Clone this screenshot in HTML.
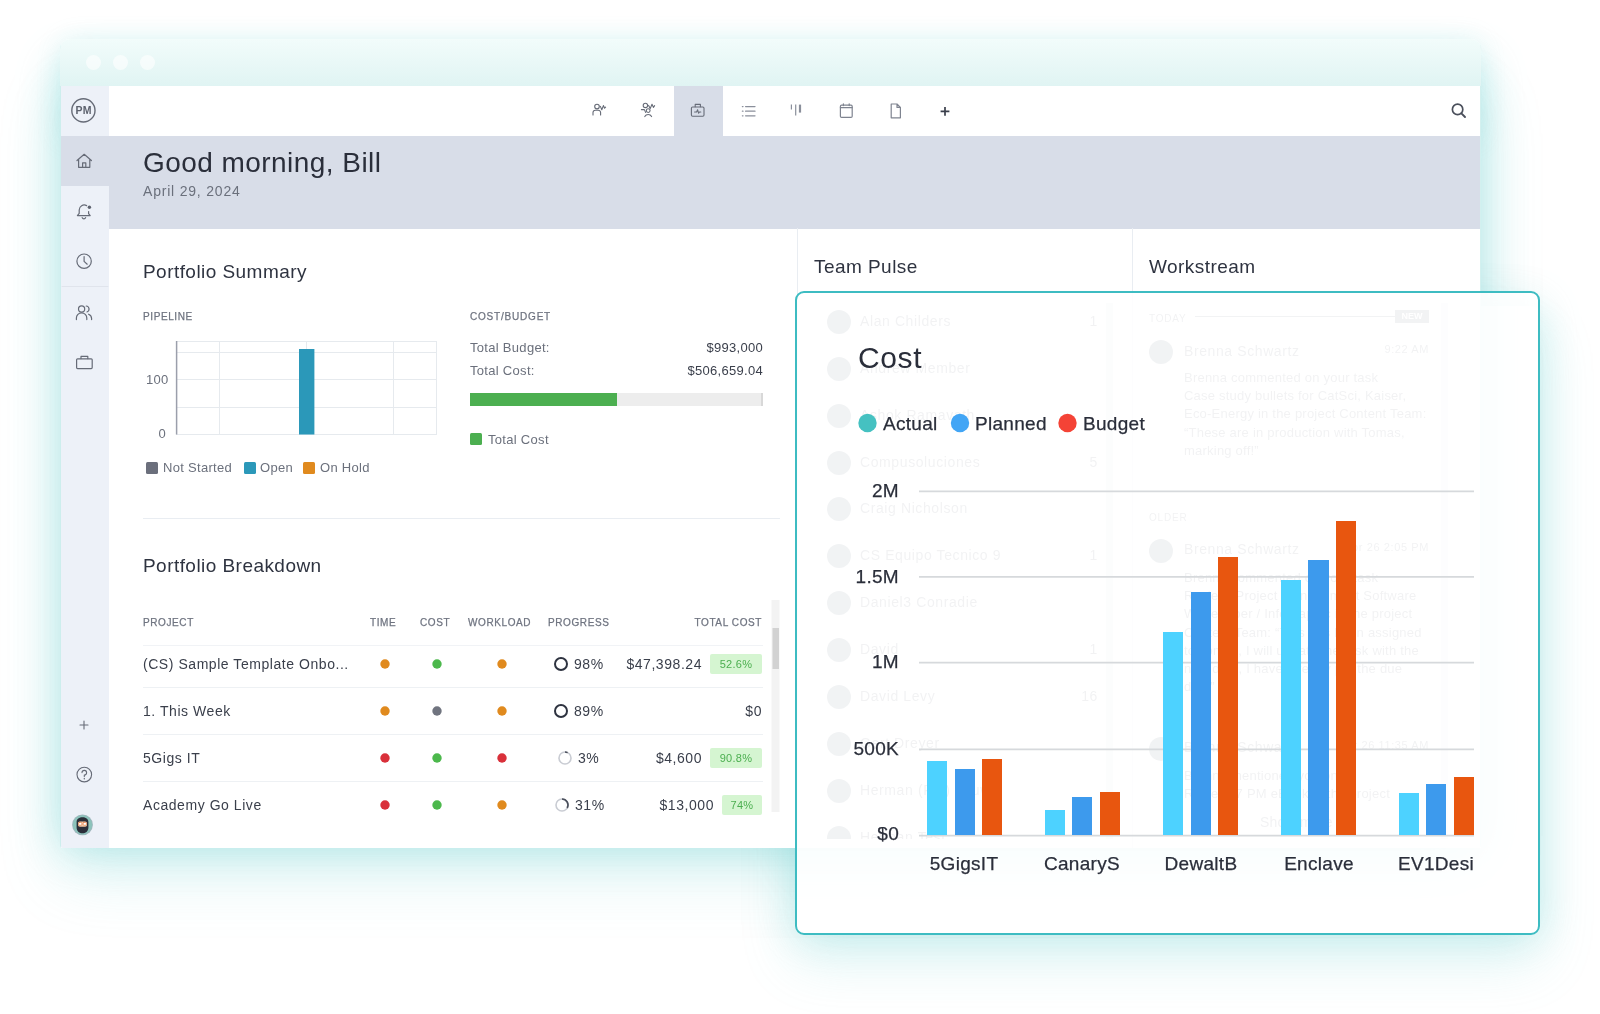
<!DOCTYPE html>
<html><head><meta charset="utf-8">
<style>
*{box-sizing:border-box;margin:0;padding:0}
html,body{width:1600px;height:1014px;overflow:hidden;background:#fff}
body{font-family:"Liberation Sans",sans-serif;color:#2e3340;position:relative}
.abs{position:absolute}
#root{position:absolute;left:0;top:0;width:1600px;height:1014px;will-change:transform}
#glow{left:61px;top:64px;width:1420px;height:784px;border-radius:10px 10px 0 0;
 box-shadow:0 0 44px 0 rgba(100,205,205,.46), 0 28px 64px 0 rgba(100,205,205,.2);}
#glow2{left:61px;top:40px;width:1420px;height:100px;border-radius:10px 10px 0 0;box-shadow:0 0 26px 0 rgba(100,205,205,.16)}
#win{left:60px;top:39px;width:1421px;height:809px;border-radius:10px 10px 3px 3px;overflow:hidden;background:linear-gradient(90deg,#cdeeed 1px,#fff 1px,#fff 1420px,#d3f0ef 1420px)}
#titlebar{left:0;top:0;width:1421px;height:47px;background:linear-gradient(#f2fcfb,#e0f4f3)}
.tl{width:15px;height:15px;border-radius:50%;background:rgba(255,255,255,.6);top:16px}
#side{left:1px;top:47px;width:48px;height:762px;background:#edf1f8}
#side .act{left:0;top:50px;width:48px;height:50px;background:#d8dde8}
#topbar{left:49px;top:47px;width:1371px;height:50px;background:#fff}
#topbar .act{left:564.6px;top:0;width:49.8px;height:50px;background:#d8dde8}
#band{left:49px;top:97px;width:1371px;height:93px;background:#d8dde8}
h1{font-weight:400;font-size:28px;left:83px;top:108px;color:#2a2e3a;white-space:nowrap;letter-spacing:.45px}
.date{font-size:14px;left:83px;top:144px;color:#6b707c;letter-spacing:.8px;white-space:nowrap}
.h2{font-size:19px;color:#2e3340;white-space:nowrap;letter-spacing:.45px}
.cap{font-size:10px;color:#6f7480;letter-spacing:.6px;white-space:nowrap;-webkit-text-stroke:.25px #6f7480}
.t12{font-size:13px;color:#6b707c;white-space:nowrap;letter-spacing:.3px}
.vline{width:1px;background:#e9edf2}

.row{font-size:14px;color:#3a3f4b;white-space:nowrap;left:83px;letter-spacing:.55px}
.badge{height:20px;line-height:20px;background:#d5f5d1;color:#4caf50;font-size:11px;text-align:center;border-radius:2px;letter-spacing:.3px}
#card{left:795px;top:291px;width:745px;height:644px;border:2px solid #3dbcc2;border-radius:9px;background:rgba(255,255,255,.89)}
#cardglow{left:795px;top:306px;width:745px;height:629px;border-radius:9px;mix-blend-mode:darken;box-shadow:0 0 40px rgba(100,205,205,.32), 0 26px 56px rgba(100,205,205,.2)}
#ghost{left:0;top:0;width:1600px;height:838px;overflow:hidden;color:#868b96}
.gn{position:absolute;left:860px;width:238px;font-size:14px;letter-spacing:.6px;white-space:nowrap}
.gn b{position:absolute;right:0;font-weight:400}
.gc{position:absolute;left:827px;width:24px;height:24px;border-radius:50%;background:#84919b}
.gs{position:absolute;font-size:13px;line-height:18.2px;letter-spacing:.22px;white-space:nowrap}
svg{position:absolute;overflow:visible}
</style></head><body><div id="root">
<div id="glow" class="abs"></div><div id="glow2" class="abs"></div><div id="cardglow" class="abs"></div>
<div id="win" class="abs">
 <div id="titlebar" class="abs">
  <div class="tl abs" style="left:26px"></div><div class="tl abs" style="left:53px"></div><div class="tl abs" style="left:80px"></div>
 </div>
 <div id="side" class="abs"><div class="act abs"></div></div>
 <div id="topbar" class="abs"><div class="act abs"></div></div>
 <div id="band" class="abs"></div>
 <h1 class="abs">Good morning, Bill</h1>
 <div class="date abs">April 29, 2024</div>
 <div class="vline abs" style="left:737px;top:189px;height:620px"></div>
 <div class="vline abs" style="left:1071.5px;top:189px;height:620px"></div>
 <div class="h2 abs" style="left:83px;top:222px">Portfolio Summary</div>
 <div class="cap abs" style="left:83px;top:272px">PIPELINE</div>
 <svg style="left:0;top:0" width="800" height="808">
  <g stroke="#e6eaee" stroke-width="1" fill="none">
   <path d="M116 302.5H377M116 313.5H377M116 340.5H377M116 368.5H377M116 395.5H377"/>
   <path d="M159.5 302V395.5M246.5 302V395.5M333.5 302V395.5M376.5 302V395.5"/>
  </g>
  <path d="M116.6 302V395.5" stroke="#9b9fab" stroke-width="1.5"/>
  <rect x="239" y="310" width="15.4" height="85.5" fill="#2b98b9"/>
  <rect x="86" y="423" width="12" height="12" rx="1.5" fill="#6b6f7c"/>
  <rect x="184" y="423" width="12" height="12" rx="1.5" fill="#2b98b9"/>
  <rect x="243" y="423" width="12" height="12" rx="1.5" fill="#e08a1e"/>
  <rect x="410" y="354" width="293" height="13" fill="#ededed"/>
  <rect x="701" y="354" width="2" height="13" fill="#d8d8d8"/>
  <rect x="410" y="354" width="147" height="13" fill="#4caf50"/>
  <rect x="410" y="394" width="12" height="12" rx="1.5" fill="#4caf50"/>
 </svg>
 <div class="t12 abs" style="left:86px;top:333px;width:20px;text-align:right">100</div>
 <div class="t12 abs" style="left:86px;top:387px;width:20px;text-align:right">0</div>
 <div class="t12 abs" style="left:103px;top:421px">Not Started</div>
 <div class="t12 abs" style="left:200px;top:421px">Open</div>
 <div class="t12 abs" style="left:260px;top:421px">On Hold</div>
 <div class="cap abs" style="left:410px;top:272px;letter-spacing:.8px">COST/BUDGET</div>
 <div class="t12 abs" style="left:410px;top:301px">Total Budget:</div>
 <div class="t12 abs" style="left:410px;top:324px">Total Cost:</div>
 <div class="t12 abs" style="right:718px;top:301px;color:#3a3f4b">$993,000</div>
 <div class="t12 abs" style="right:718px;top:324px;color:#3a3f4b">$506,659.04</div>
 <div class="t12 abs" style="left:428px;top:393px">Total Cost</div>
 <div class="abs" style="left:83px;top:479px;width:637px;height:1px;background:#e9edf2"></div>
 <div class="h2 abs" style="left:83px;top:516px">Portfolio Breakdown</div>
 <div class="cap abs" style="left:83px;top:578px">PROJECT</div>
 <div class="cap abs" style="left:310px;top:578px">TIME</div>
 <div class="cap abs" style="left:360px;top:578px">COST</div>
 <div class="cap abs" style="left:408px;top:578px">WORKLOAD</div>
 <div class="cap abs" style="left:488px;top:578px">PROGRESS</div>
 <div class="cap abs" style="right:719px;top:578px">TOTAL COST</div>
 <div class="abs" style="left:83px;top:606px;width:620px;height:1px;background:#f1f3f6"></div>
 <div class="abs" style="left:83px;top:648px;width:620px;height:1px;background:#eef1f4"></div>
 <div class="abs" style="left:83px;top:695px;width:620px;height:1px;background:#eef1f4"></div>
 <div class="abs" style="left:83px;top:742px;width:620px;height:1px;background:#eef1f4"></div>
 <div class="row abs" style="top:617px">(CS) Sample Template Onbo...</div>
 <div class="row abs" style="top:664px">1. This Week</div>
 <div class="row abs" style="top:711px">5Gigs IT</div>
 <div class="row abs" style="top:758px">Academy Go Live</div>
 <svg style="left:0;top:0" width="800" height="808">
  <g fill="#e08a1e"><circle cx="325" cy="625" r="4.7"/><circle cx="325" cy="672" r="4.7"/><circle cx="442" cy="625" r="4.7"/><circle cx="442" cy="672" r="4.7"/><circle cx="442" cy="766" r="4.7"/></g>
  <g fill="#d9303a"><circle cx="325" cy="719" r="4.7"/><circle cx="325" cy="766" r="4.7"/><circle cx="442" cy="719" r="4.7"/></g>
  <g fill="#4cb84c"><circle cx="377" cy="625" r="4.7"/><circle cx="377" cy="719" r="4.7"/><circle cx="377" cy="766" r="4.7"/></g>
  <circle cx="377" cy="672" r="4.7" fill="#70747f"/>
  <g fill="none" stroke-width="2">
   <circle cx="501" cy="625" r="6" stroke="#2e3340"/>
   <circle cx="501" cy="672" r="6" stroke="#2e3340"/>
   <circle cx="505" cy="719" r="6" stroke="#c9ccd3" stroke-width="1.6"/><path d="M505 713A6 6 0 0 1 507.6 713.6" stroke="#4a4f5b" stroke-width="1.6"/>
   <circle cx="502" cy="766" r="6" stroke="#c9ccd3" stroke-width="1.6"/>
   <path d="M502 760A6 6 0 0 1 507.2 769" stroke="#4a4f5b" stroke-width="1.6"/>
  </g>
  <rect x="711.5" y="561" width="8" height="212" fill="#f3f3f3"/>
  <rect x="712.5" y="589" width="6.5" height="41" fill="#d2d2d2"/>
 </svg>
 <div class="row abs" style="left:514px;top:617px">98%</div>
 <div class="row abs" style="left:514px;top:664px">89%</div>
 <div class="row abs" style="left:518px;top:711px">3%</div>
 <div class="row abs" style="left:515px;top:758px">31%</div>
 <div class="row abs" style="left:auto;right:779px;top:617px">$47,398.24</div>
 <div class="row abs" style="left:auto;right:719px;top:664px">$0</div>
 <div class="row abs" style="left:auto;right:779px;top:711px">$4,600</div>
 <div class="row abs" style="left:auto;right:767px;top:758px">$13,000</div>
 <div class="badge abs" style="left:650px;top:615px;width:52px">52.6%</div>
 <div class="badge abs" style="left:650px;top:709px;width:52px">90.8%</div>
 <div class="badge abs" style="left:662px;top:756px;width:40px">74%</div>
</div>
<svg style="left:0;top:0" width="1600" height="1014" fill="none" stroke="#666b77" stroke-width="1.2" stroke-linecap="round" stroke-linejoin="round">
 <!-- PM logo -->
 <circle cx="83.4" cy="110.4" r="11.6" stroke-width="1.4"/>
 <text x="83.5" y="114.2" font-family="Liberation Sans, sans-serif" font-weight="700" font-size="10.5" text-anchor="middle" fill="#5d626e" stroke="none" letter-spacing=".2">PM</text>
 <!-- home -->
 <path d="M77 160.5L84.2 154.3L91.4 160.5M78.6 159.3V167.3H89.8V159.3M82.6 167.3V162.8H85.8V167.3"/>
 <!-- bell -->
 <path d="M86.6 205.6A5 5 0 0 0 79.2 210V213.4L77.4 215.6H90.2L88.6 213.6V211.6M82.2 217.6A1.8 1.8 0 0 0 85.6 217.6"/>
 <circle cx="89.4" cy="207.2" r="1.7" fill="#5d626e" stroke="none"/>
 <!-- clock -->
 <circle cx="84.1" cy="261.2" r="7.2"/><path d="M84.1 256.6V261.4L87.2 264.2"/>
 <path d="M62 286.5H108" stroke="#e0e4ec" stroke-width="1"/>
 <!-- people -->
 <circle cx="81.6" cy="309" r="3.1"/><path d="M76.4 319.6V318A5.2 5.2 0 0 1 86.8 318V319.6"/>
 <path d="M86.2 306A3.1 3.1 0 0 1 87 312M88.6 314.2A4.6 4.6 0 0 1 91.6 318.4V319.6"/>
 <!-- briefcase -->
 <rect x="76.6" y="358.8" width="15.6" height="9.8" rx="1"/><path d="M81 358.6V356.4H87.8V358.6"/>
 <!-- plus -->
 <path d="M80 725H88M84 721V729" stroke-width="1.1"/>
 <!-- help -->
 <circle cx="84.3" cy="774.6" r="7.3" stroke-width="1.1"/><path d="M82 772.6A2.3 2.3 0 1 1 84.3 775V776.6" stroke-width="1.1"/><circle cx="84.3" cy="778.8" r=".7" fill="#5d626e" stroke="none"/>
 <!-- avatar -->
 <g stroke="none">
  <circle cx="82.5" cy="824.8" r="10.4" fill="#9fb7bd"/>
  <circle cx="82.5" cy="824.8" r="9.6" fill="#8cc3bb"/>
  <path d="M76.6 822.4C76.2 815.6 88.8 815.6 88.4 822.4V827.4C88.4 835.2 76.6 835.2 76.6 827.4Z" fill="#2b2e39"/>
  <rect x="78" y="821.4" width="9" height="5.4" rx="1.8" fill="#f3c7a6"/>
  <rect x="78.6" y="822.4" width="3.2" height="2.8" rx=".7" fill="#fff" stroke="#e0763a" stroke-width=".6"/>
  <rect x="83.2" y="822.4" width="3.2" height="2.8" rx=".7" fill="#fff" stroke="#e0763a" stroke-width=".6"/>
 </g>
 <!-- topbar: person pulse -->
 <g stroke-width="1.1">
 <circle cx="597" cy="106.6" r="2.3"/><path d="M593 115V112.6A2.4 2.4 0 0 1 595.4 110.2H598.2A2.4 2.4 0 0 1 600.6 112.6V115"/>
 <path d="M600.4 106.4L601.8 109.8L603.4 105.6L604.6 108.2L605.6 107.2"/>
 <!-- people pulse -->
 <circle cx="645.4" cy="105.4" r="2.2"/><path d="M641.4 109.6H644.4L645.6 112.4M644.8 116.6A3.8 3.8 0 0 1 651.6 116.6"/>
 <circle cx="648.2" cy="110.6" r="1.9"/>
 <path d="M648.6 105.4L650.2 108.6L652 104.2L653.4 107.4L654.6 105.6"/>
 <!-- briefcase pulse -->
 <rect x="691.4" y="107" width="12.6" height="9.2" rx="1.2"/><path d="M695.2 106.8V104.4H700.4V106.8"/>
 <path d="M694.6 112H696.6L697.6 109.8L698.6 113.2L699.4 112H700.8"/>
 </g>
 <!-- list -->
 <g stroke="#8a8f9b" stroke-width="1.3"><path d="M745.6 106.6H755M745.6 111.2H755M745.6 115.8H755"/><path d="M742.4 106.6H743M742.4 111.2H743M742.4 115.8H743"/></g>
 <!-- board -->
 <g stroke="#8a8f9b" stroke-linecap="butt"><path d="M791.4 104.6V109.6" stroke-width="1.2"/><path d="M795.7 104.6V115.6" stroke-width="1.2"/><path d="M800 104.6V112.6" stroke-width="2.2"/></g>
 <!-- calendar -->
 <g stroke="#7f8490" stroke-width="1.2"><rect x="840.4" y="105.2" width="11.8" height="12.2" rx="1.2"/><path d="M840.4 107.6H852.2M843.4 103.8V105.6M849.2 103.8V105.6"/></g>
 <!-- file -->
 <g stroke="#7f8490" stroke-width="1.2"><path d="M891.2 104H897L900.4 107.4V117.8H891.2ZM897 104V107.4H900.4"/></g>
 <!-- plus -->
 <path d="M940.6 111.4H949.4M945 107V115.8" stroke="#3a3f4b" stroke-width="1.7" stroke-linecap="butt"/>
 <!-- search -->
 <circle cx="1457.6" cy="109.4" r="5.2" stroke="#4a4f5b" stroke-width="1.7"/><path d="M1461.4 113.4L1465 117" stroke="#4a4f5b" stroke-width="1.9"/>
</svg>
<div class="h2 abs" style="left:814px;top:256px">Team Pulse</div>
<div class="h2 abs" style="left:1149px;top:256px">Workstream</div>
<div id="ghost" class="abs" style="top:1px">
 <div class="gn" style="top:312px">Alan Childers<b>1</b></div>
 <div class="gn" style="top:359px">Andrew Member</div>
 <div class="gn" style="top:406px">Ashok Ramavath</div>
 <div class="gn" style="top:453px">Compusoluciones<b>5</b></div>
 <div class="gn" style="top:499px">Craig Nicholson</div>
 <div class="gn" style="top:546px">CS Equipo Tecnico 9<b>1</b></div>
 <div class="gn" style="top:593px">Daniel3 Conradie</div>
 <div class="gn" style="top:640px">David<b>1</b></div>
 <div class="gn" style="top:687px">David Levy<b>16</b></div>
 <div class="gn" style="top:734px">Gert Dreyer</div>
 <div class="gn" style="top:781px">Herman (PM) Louw</div>
 <div class="gn" style="top:828px">Herman Test</div>
 <div class="gc" style="top:309px"></div><div class="gc" style="top:356px"></div><div class="gc" style="top:403px"></div><div class="gc" style="top:450px"></div><div class="gc" style="top:496px"></div><div class="gc" style="top:543px"></div><div class="gc" style="top:590px"></div><div class="gc" style="top:637px"></div><div class="gc" style="top:684px"></div><div class="gc" style="top:731px"></div><div class="gc" style="top:778px"></div><div class="gc" style="top:824.6px"></div>
 <div class="abs" style="left:1106px;top:302px;width:7px;height:540px;background:#e4e6ea"></div>
 <div class="abs" style="left:1441px;top:302px;width:7px;height:540px;background:#eceef1"></div>
 <div class="gs" style="left:1149px;top:309px;font-size:10px;letter-spacing:.8px">TODAY</div>
 <div class="abs" style="left:1195px;top:315px;width:200px;height:1px;background:#8a8f9b"></div>
 <div class="abs" style="left:1395px;top:309px;width:34px;height:13px;background:#8a8f9b;color:#fff;font-size:9px;line-height:13px;text-align:center;font-weight:700">NEW</div>
 <div class="gc" style="left:1149px;top:339px"></div>
 <div class="gn" style="left:1184px;top:342px;width:245px">Brenna Schwartz<b style="font-size:11px">9:22 AM</b></div>
 <div class="gs" style="left:1184px;top:368px;width:250px">Brenna commented on your task<br>Case study bullets for CatSci, Kaiser,<br>Eco-Energy in the project Content Team:<br>“These are in production with Tomas,<br>marking off!”</div>
 <div class="gs" style="left:1149px;top:508px;font-size:10px;letter-spacing:.8px">OLDER</div>
 <div class="gc" style="left:1149px;top:538px"></div>
 <div class="gn" style="left:1184px;top:540px;width:245px">Brenna Schwartz<b style="font-size:11px">Apr 26 2:05 PM</b></div>
 <div class="gs" style="left:1184px;top:568px;width:250px">Brenna commented on your task<br>Review: Project Management Software<br>Whitepaper / Infographic in the project<br>Content Team: “This has been assigned<br>to Tomas, I will update the task with the<br>new date, I have already put the due<br>date”</div>
 <div class="gc" style="left:1149px;top:736px"></div>
 <div class="gn" style="left:1184px;top:738px;width:245px">Brenna Schwartz<b style="font-size:11px">Apr 26 11:35 AM</b></div>
 <div class="gs" style="left:1184px;top:766px;width:250px">Brenna mentioned you on<br>Review: 7 PM eBook in the project</div>
 <div class="gs" style="left:1260px;top:812px;font-size:14px">Show more</div>
</div>
<div id="card" class="abs"></div>
<div class="abs" style="left:858px;top:341px;font-size:30px;color:#2a2e3a;letter-spacing:.6px">Cost</div>
<svg style="left:0;top:0" width="1600" height="1014">
 <circle cx="867.5" cy="423" r="9.2" fill="#45c1c1"/>
 <circle cx="960" cy="423" r="9.2" fill="#42a5f5"/>
 <circle cx="1067.5" cy="423" r="9.2" fill="#f44336"/>
 <g stroke="#d6d9dc" stroke-width="1.7"><path d="M919 491.3H1474M919 576.9H1474M919 662.6H1474M919 749.4H1474M919 835.6H1474"/></g>
 <g fill="#4dd2ff">
  <rect x="927" y="761" width="20" height="74"/><rect x="1045" y="810" width="20" height="25"/><rect x="1163" y="632" width="20" height="203"/><rect x="1281" y="580" width="20" height="255"/><rect x="1399" y="793" width="20" height="42"/>
 </g>
 <g fill="#3d9aed">
  <rect x="955" y="769" width="20" height="66"/><rect x="1072" y="797" width="20" height="38"/><rect x="1191" y="592" width="20" height="243"/><rect x="1308" y="560" width="21" height="275"/><rect x="1426" y="784" width="20" height="51"/>
 </g>
 <g fill="#e8560f">
  <rect x="982" y="759" width="20" height="76"/><rect x="1100" y="792" width="20" height="43"/><rect x="1218" y="557" width="20" height="278"/><rect x="1336" y="521" width="20" height="314"/><rect x="1454" y="777" width="20" height="58"/>
 </g>
 <g font-size="19" fill="#2a2e3a" stroke="#2a2e3a" stroke-width=".25" font-family="Liberation Sans, sans-serif" letter-spacing=".3">
  <text x="883" y="430">Actual</text><text x="975" y="430">Planned</text><text x="1083" y="430">Budget</text>
  <g text-anchor="end"><text x="899" y="497">2M</text><text x="899" y="583">1.5M</text><text x="899" y="668">1M</text><text x="899" y="754.6">500K</text><text x="899" y="840.4">$0</text></g>
  <g text-anchor="middle"><text x="964" y="869.5">5GigsIT</text><text x="1082" y="869.5">CanaryS</text><text x="1201" y="869.5">DewaltB</text><text x="1319" y="869.5">Enclave</text><text x="1436" y="869.5">EV1Desi</text></g>
 </g>
</svg>
</div></body></html>
